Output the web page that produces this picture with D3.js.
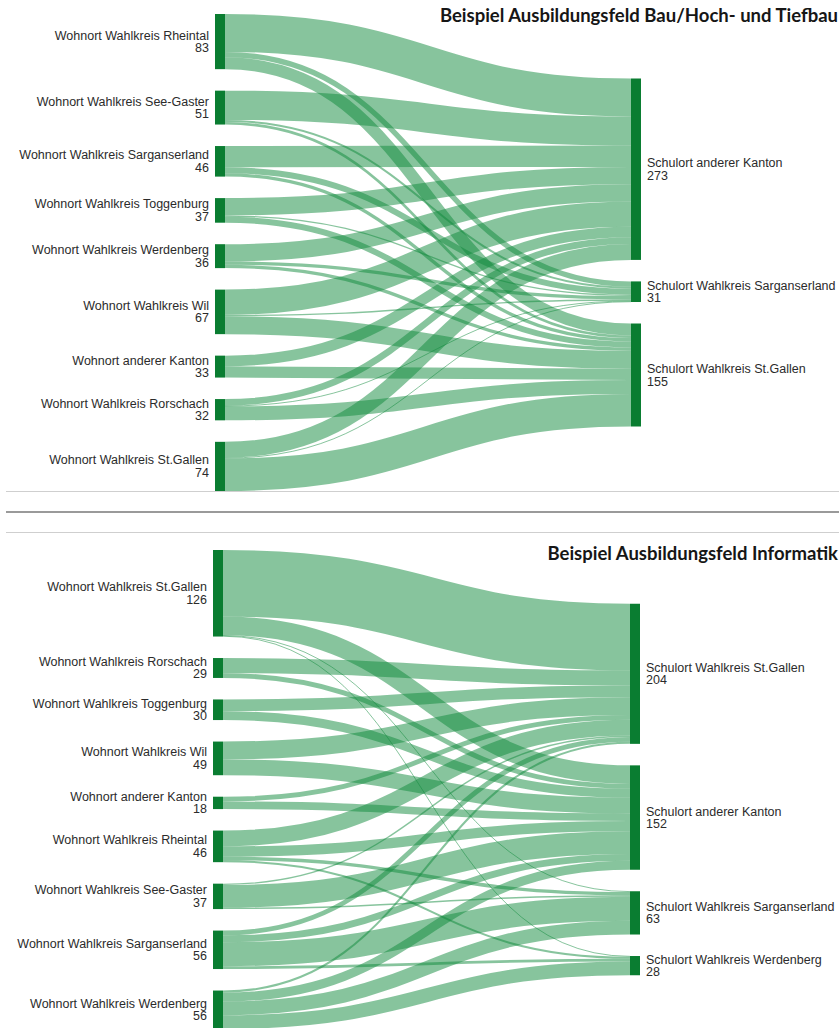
<!DOCTYPE html>
<html>
<head>
<meta charset="utf-8">
<script src="https://cdn.jsdelivr.net/npm/d3@7"></script>
<style>
  html, body { margin: 0; padding: 0; background: #fff; }
  svg { display: block; }
  .lbl { font-family: "Liberation Sans", Arial, sans-serif; font-size: 12.5px; fill: #2b2b2b; }
  .ttl { font-family: Lato, "Open Sans", sans-serif; font-weight: 700; font-size: 18.5px; fill: #161616; }
</style>
</head>
<body>
<svg id="chart" width="839" height="1028"></svg>
<script>
// ---------- Data: chart 1 (Bau/Hoch- und Tiefbau) ----------
const title1 = "Beispiel Ausbildungsfeld Bau/Hoch- und Tiefbau";
const sources1 = [
  "Wohnort Wahlkreis Rheintal",
  "Wohnort Wahlkreis See-Gaster",
  "Wohnort Wahlkreis Sarganserland",
  "Wohnort Wahlkreis Toggenburg",
  "Wohnort Wahlkreis Werdenberg",
  "Wohnort Wahlkreis Wil",
  "Wohnort anderer Kanton",
  "Wohnort Wahlkreis Rorschach",
  "Wohnort Wahlkreis St.Gallen"
];
const targets1 = [
  "Schulort anderer Kanton",
  "Schulort Wahlkreis Sarganserland",
  "Schulort Wahlkreis St.Gallen"
];
// rows = sources1, columns = targets1
const flows1 = [
  [57, 8, 18],
  [44, 3, 4],
  [32, 9, 5],
  [26, 2, 9],
  [26, 5, 5],
  [38, 2, 27],
  [16, 0, 17],
  [10, 1, 21],
  [24, 1, 49]
];

// ---------- Data: chart 2 (Informatik) ----------
const title2 = "Beispiel Ausbildungsfeld Informatik";
const sources2 = [
  "Wohnort Wahlkreis St.Gallen",
  "Wohnort Wahlkreis Rorschach",
  "Wohnort Wahlkreis Toggenburg",
  "Wohnort Wahlkreis Wil",
  "Wohnort anderer Kanton",
  "Wohnort Wahlkreis Rheintal",
  "Wohnort Wahlkreis See-Gaster",
  "Wohnort Wahlkreis Sarganserland",
  "Wohnort Wahlkreis Werdenberg"
];
const targets2 = [
  "Schulort Wahlkreis St.Gallen",
  "Schulort anderer Kanton",
  "Schulort Wahlkreis Sarganserland",
  "Schulort Wahlkreis Werdenberg"
];
const flows2 = [
  [97, 27, 1, 1],
  [22, 7, 0, 0],
  [17, 13, 0, 0],
  [26, 23, 0, 0],
  [7, 11, 0, 0],
  [23, 15, 5, 3],
  [2, 33, 2, 0],
  [7, 10, 35, 4],
  [3, 13, 20, 20]
];

// ---------- Two-column sankey layout (input node order, columns stacked and centred) ----------
function sankeyLayout(sources, targets, flows, ext, nodeWidth, nodePadding) {
  const nodes = [];
  sources.forEach(n => nodes.push({name: n, layer: 0, sourceLinks: [], targetLinks: []}));
  targets.forEach(n => nodes.push({name: n, layer: 1, sourceLinks: [], targetLinks: []}));
  const links = [];
  flows.forEach((row, i) => row.forEach((v, j) => {
    if (v > 0) {
      const l = {source: nodes[i], target: nodes[sources.length + j], value: v, index: links.length};
      l.source.sourceLinks.push(l); l.target.targetLinks.push(l);
      links.push(l);
    }
  }));
  nodes.forEach(n => n.value = Math.max(d3.sum(n.sourceLinks, l => l.value), d3.sum(n.targetLinks, l => l.value)));
  const [[x0, y0], [x1, y1]] = ext;
  const columns = [nodes.filter(n => n.layer === 0), nodes.filter(n => n.layer === 1)];
  const kx = (x1 - x0 - nodeWidth) / (columns.length - 1);
  nodes.forEach(n => { n.x0 = x0 + n.layer * kx; n.x1 = n.x0 + nodeWidth; });
  const py = nodePadding;
  const ky = d3.min(columns, c => (y1 - y0 - (c.length - 1) * py) / d3.sum(c, n => n.value));
  for (const col of columns) {
    let y = y0;
    for (const n of col) {
      n.y0 = y; n.y1 = y + n.value * ky; y = n.y1 + py;
      for (const l of n.sourceLinks) l.width = l.value * ky;
    }
    const shift = (y1 - (y - py)) / 2;
    col.forEach(n => { n.y0 += shift; n.y1 += shift; });
  }
  const ascSrc = (a, b) => (a.source.y0 - b.source.y0) || a.index - b.index;
  const ascTgt = (a, b) => (a.target.y0 - b.target.y0) || a.index - b.index;
  for (const n of nodes) {
    n.sourceLinks.sort(ascTgt); n.targetLinks.sort(ascSrc);
    let a = n.y0, b = n.y0;
    for (const l of n.sourceLinks) { l.y0 = a + l.width / 2; a += l.width; }
    for (const l of n.targetLinks) { l.y1 = b + l.width / 2; b += l.width; }
  }
  return {nodes, links};
}

const svg = d3.select("#chart");
const linkColor = "#0f8a3c";
const nodeColor = "#0a7d31";
const linkPath = d3.linkHorizontal()
  .source(d => [d.source.x1, d.y0])
  .target(d => [d.target.x0, d.y1]);

function drawChart(g, data, title, titleY) {
  g.append("g").selectAll("path").data(data.links).join("path")
    .attr("d", linkPath)
    .attr("fill", "none")
    .attr("stroke", linkColor)
    .attr("stroke-opacity", 0.5)
    .attr("stroke-width", d => Math.max(1, d.width));
  g.append("g").selectAll("rect").data(data.nodes).join("rect")
    .attr("x", d => d.x0).attr("y", d => d.y0)
    .attr("width", d => d.x1 - d.x0).attr("height", d => d.y1 - d.y0)
    .attr("fill", nodeColor);
  const lx = d => d.layer === 0 ? d.x0 - 6 : d.x1 + 6;
  const lbl = g.append("g").selectAll("text").data(data.nodes).join("text")
    .attr("class", "lbl")
    .attr("text-anchor", d => d.layer === 0 ? "end" : "start")
    .attr("x", lx);
  lbl.append("tspan").attr("x", lx)
    .attr("y", d => (d.y0 + d.y1) / 2 - 2).text(d => d.name);
  lbl.append("tspan").attr("x", lx)
    .attr("y", d => (d.y0 + d.y1) / 2 + 10.5).text(d => d.value);
  g.append("text").attr("class", "ttl").attr("text-anchor", "end")
    .attr("x", 838).attr("y", titleY).text(title);
}

const data1 = sankeyLayout(sources1, targets1, flows1, [[215, 14], [641, 491]], 10, 21.5);
const data2 = sankeyLayout(sources2, targets2, flows2, [[213, 550], [640, 1029]], 10, 21.5);

drawChart(svg.append("g"), data1, title1, 22);
drawChart(svg.append("g"), data2, title2, 560);

// separators between the two panels
const seps = [
  {y: 491.5, c: "#cfcfcf", w: 1},
  {y: 512, c: "#9a9a9a", w: 2},
  {y: 532.5, c: "#cfcfcf", w: 1}
];
svg.append("g").selectAll("line").data(seps).join("line")
  .attr("x1", 6).attr("x2", 839)
  .attr("y1", d => d.y).attr("y2", d => d.y)
  .attr("stroke", d => d.c).attr("stroke-width", d => d.w);
</script>
</body>
</html>
